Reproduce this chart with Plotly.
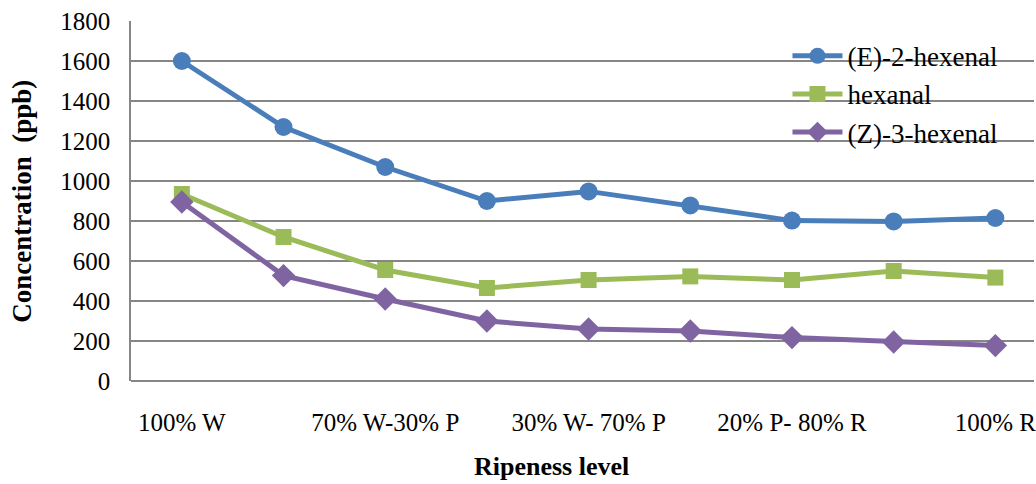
import plotly.graph_objects as go

# Ripeness stages (only every other one is labelled on the axis)
stages = ["100% W", "85% W-15% P", "70% W-30% P", "50% W-50% P", "30% W- 70% P",
          "50% P-50% R", "20% P- 80% R", "10% P-90% R", "100% R"]
shown_labels = ["100% W", "70% W-30% P", "30% W- 70% P", "20% P- 80% R", "100% R"]

e2_hexenal = [1600, 1270, 1070, 900, 948, 878, 802, 798, 815]
hexanal = [935, 720, 555, 465, 505, 523, 505, 550, 517]
z3_hexenal = [895, 527, 410, 300, 260, 250, 217, 195, 177]

y_ticks = [0, 200, 400, 600, 800, 1000, 1200, 1400, 1600, 1800]

FONT = "Liberation Serif"
x_idx = list(range(len(stages)))

series = [
    ("(E)-2-hexenal", e2_hexenal, "#4a7ebb", "circle", 18),
    ("hexanal", hexanal, "#9bbb59", "square", 16),
    ("(Z)-3-hexenal", z3_hexenal, "#8064a2", "diamond", 18),
]

fig = go.Figure()
for i, (name, vals, color, sym, size) in enumerate(series):
    fig.add_trace(go.Scatter(
        x=x_idx, y=vals, name=name, mode="lines+markers",
        legendgroup=f"g{i}",
        line=dict(color=color, width=5),
        marker=dict(symbol=sym, size=size, color=color),
        customdata=[stages[j] for j in x_idx],
        hovertemplate="%{customdata}: %{y}<extra>" + name + "</extra>",
    ))

fig.update_layout(
    width=1036, height=484,
    margin=dict(l=131, r=0, t=21, b=103),
    paper_bgcolor="white", plot_bgcolor="white",
    font=dict(family=FONT, size=25, color="black"),
    showlegend=True,
    legend=dict(
        x=0.727, y=0.97, xanchor="left", yanchor="top",
        bgcolor="rgba(0,0,0,0)", borderwidth=0,
        font=dict(family=FONT, size=27, color="black"),
        traceorder="grouped", tracegroupgap=0, itemwidth=50,
    ),
    xaxis=dict(
        range=[-0.5, 8.38],
        tickmode="array", tickvals=[0, 2, 4, 6, 8], ticktext=shown_labels,
        showgrid=False, zeroline=False,
        showline=False,
        ticks="", ticklabelstandoff=24, ticklabeloverflow="allow",
        tickfont=dict(family=FONT, size=25),
    ),
    yaxis=dict(
        range=[0, 1800], tickvals=y_ticks,
        showgrid=True, gridcolor="#868686", gridwidth=1.5,
        zeroline=True, zerolinecolor="#868686", zerolinewidth=1.5,
        showline=True, linecolor="#868686", linewidth=1.5,
        ticks="", ticklabelstandoff=14,
        tickfont=dict(family=FONT, size=25),
    ),
    annotations=[
        dict(text="<b>Ripeness level</b>", xref="paper", yref="paper",
             x=0.466, y=-0.238, xanchor="center", yanchor="middle",
             showarrow=False, font=dict(family=FONT, size=26)),
        dict(text="<b>Concentration  (ppb)</b>", xref="paper", yref="paper",
             x=-0.121, y=0.5, xanchor="center", yanchor="middle",
             textangle=-90, showarrow=False, font=dict(family=FONT, size=27)),
    ],
)

fig.write_html("out.html")
